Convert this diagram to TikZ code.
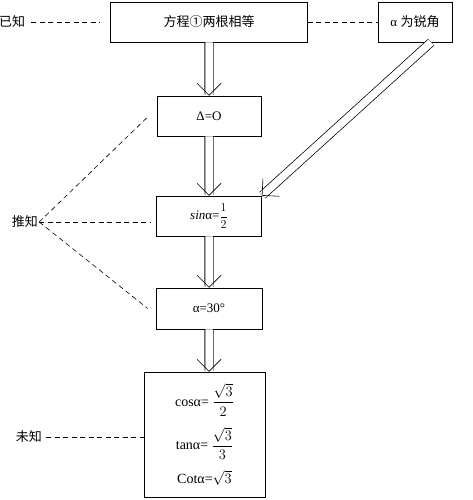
\documentclass[tikz,border=0pt]{standalone}
\usepackage{fontspec}
\usepackage{amsmath}
\setmainfont{Liberation Serif}
\newfontfamily\cjk{Noto Sans CJK SC}
\usetikzlibrary{arrows.meta}

\tikzset{
  box/.style={draw,line width=0.6pt,inner sep=0pt},
  hint/.style={dash pattern=on 5pt off 3.5pt,line width=0.6pt},
  dblarrow/.style={double,double distance=7.5pt,line width=0.6pt,
    -{Straight Barb[length=12pt,width=24pt,line width=0.6pt]},
    preaction={draw,double,double distance=7.5pt,line width=0.6pt,-,shorten >=4pt}},
}

\begin{document}
\begin{tikzpicture}[x=1pt,y=-1pt,font=\fontsize{13}{15}\selectfont]
  \useasboundingbox (0,0) rectangle (472,500);
  \node[box,minimum width=197pt,minimum height=40pt] (eq) at (209,22){\cjk 方程①两根相等};
  \node[box,minimum width=74pt,minimum height=40pt] (acute) at (415,22){α \cjk 为锐角};
  \node[box,minimum width=104pt,minimum height=40pt] (delta) at (209,116){Δ=O};
  \node[box,minimum width=105pt,minimum height=40pt] (sin) at (209,216){\textit{sin}α=$\dfrac{1}{2}$};
  \node[box,minimum width=106pt,minimum height=41pt] (a30) at (209,308.5){α=30°};
  \node[box,minimum width=121pt,minimum height=125pt,align=center,font=\fontsize{14}{16}\selectfont] (final) at (204.5,434.5)
    {cosα= $\dfrac{\sqrt{3}}{2}$\\[10pt] tanα= $\dfrac{\sqrt{3}}{3}$\\[10pt] Cotα=$\sqrt{3}$};
  \node[inner sep=1pt] (known) at (12,22){\cjk 已知};
  \node[inner sep=1pt] (infer) at (25,222){\cjk 推知};
  \node[inner sep=1pt] (unknown) at (29,437){\cjk 未知};
  % dashed hints
  \draw[hint] ([xshift=5pt]known.east) -- ([xshift=-10pt]eq.west);
  \draw[hint] (eq.east) -- (acute.west);
  \draw[hint] (infer.east) -- ([xshift=-8pt]delta.west);
  \draw[hint] (infer.east) -- ([xshift=-6pt]sin.west |- infer.east);
  \draw[hint] (infer.east) -- ([xshift=-8pt]a30.west);
  \draw[hint] ([xshift=3pt]unknown.east) -- (final.west |- unknown.east);
  % double arrows (tiny xshift keeps them from being exactly vertical)
  \draw[dblarrow] (eq.south) -- ([xshift=0.1pt]delta.north);
  \draw[dblarrow] (delta.south) -- ([xshift=0.1pt]sin.north);
  \draw[dblarrow] (sin.south) -- ([xshift=0.1pt]a30.north);
  \draw[dblarrow] (a30.south) -- ([xshift=0.1pt]a30.south |- final.north);
  \draw[dblarrow] ([xshift=16pt]acute.south) -- (sin.north east);
\end{tikzpicture}
\end{document}
